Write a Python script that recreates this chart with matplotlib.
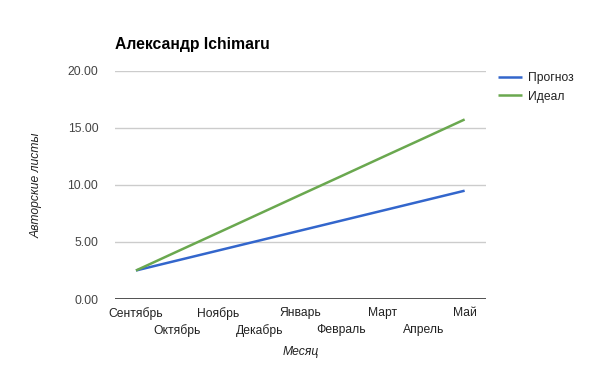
import matplotlib
matplotlib.use("Agg")
import matplotlib.pyplot as plt

months = ["Сентябрь", "Октябрь", "Ноябрь", "Декабрь", "Январь",
          "Февраль", "Март", "Апрель", "Май"]
forecast = [2.5, 3.375, 4.25, 5.125, 6.0, 6.875, 7.75, 8.625, 9.5]
ideal = [2.5, 4.16, 5.81, 7.47, 9.13, 10.78, 12.44, 14.09, 15.75]
yticks = [0, 5, 10, 15, 20]

plt.rcParams['font.family'] = ['Liberation Sans', 'DejaVu Sans']
FS = 8.7

fig = plt.figure(figsize=(6, 3.71), dpi=100)
ax = fig.add_axes([115/600, 1-299/371, (486-115)/600, (299-71)/371])

x = list(range(len(months)))
ax.plot(x, forecast, color="#3366cc", lw=1.8, label="Прогноз", solid_capstyle='butt')
ax.plot(x, ideal, color="#6aa84f", lw=1.8, label="Идеал", solid_capstyle='butt')

ax.set_xlim(-0.51, 8.52)
ax.set_ylim(0, 20)
ax.set_yticks(yticks)
ax.set_yticklabels([f"{v:.2f}" for v in yticks])
for v in yticks[1:]:
    ax.axhline(v, color="#cccccc", lw=1, zorder=0)
ax.axhline(0, color="#333333", lw=1.2, zorder=3)

for s in ax.spines.values():
    s.set_visible(False)

ax.set_xticks(x[0::2])
ax.set_xticklabels(months[0::2])
ax.set_xticks(x[1::2], minor=True)
ax.set_xticklabels(months[1::2], minor=True)
ax.tick_params(axis='x', which='major', length=0, pad=5.5, labelsize=FS, labelcolor="#222222")
ax.tick_params(axis='x', which='minor', length=0, pad=18, labelsize=FS, labelcolor="#222222")
ax.tick_params(axis='y', length=0, pad=12, labelsize=FS, labelcolor="#444444")

fig.text(115/600, 1-45/371, "Александр Ichimaru", fontsize=11.3, fontweight='bold',
         ha='left', va='center', color='black')
fig.text(301/600, 1-352/371, "Месяц", fontsize=FS, style='italic', ha='center', va='center', color='#222222')
fig.text(37/600, 1-185/371, "Авторские листы", fontsize=FS, style='italic', rotation=90,
         ha='center', va='center', color='#222222')

leg = ax.legend(loc='upper left', bbox_to_anchor=(498/600, 1-72/371), bbox_transform=fig.transFigure,
                frameon=False, handlelength=2.0, handletextpad=0.45, labelspacing=0.55,
                borderpad=0, borderaxespad=0, fontsize=FS)
for t in leg.get_texts():
    t.set_color("#222222")

fig.savefig("out.png", dpi=100)
